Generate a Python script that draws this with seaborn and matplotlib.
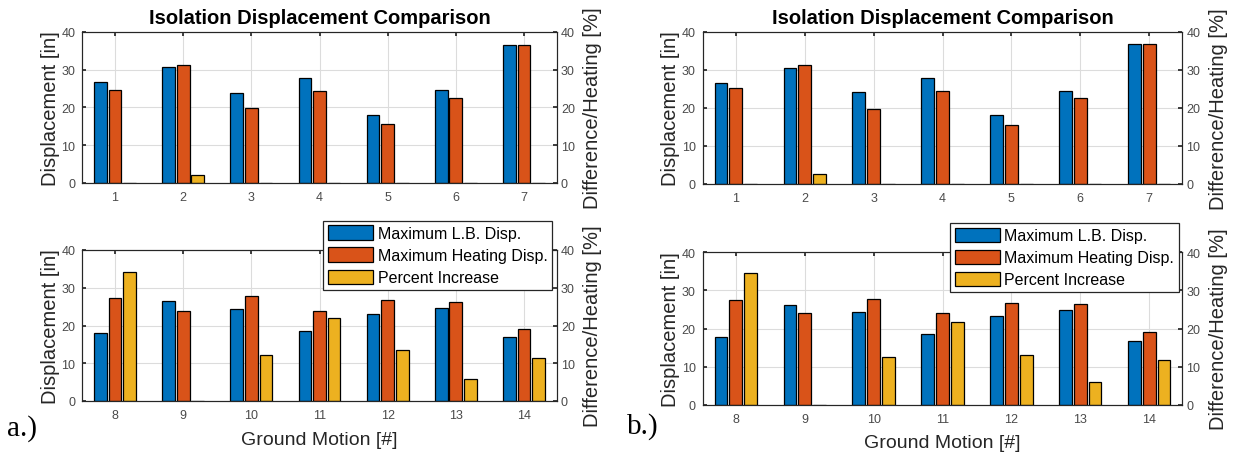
import matplotlib
matplotlib.use("Agg")
import matplotlib.pyplot as plt
import matplotlib.patches as mpatches
import seaborn as sns
import pandas as pd

# ---------------- data ----------------
motions_top = ["1", "2", "3", "4", "5", "6", "7"]
motions_bot = ["8", "9", "10", "11", "12", "13", "14"]
series_names = ["Maximum L.B. Disp.", "Maximum Heating Disp.", "Percent Increase"]

a_top_lb = [26.6, 30.6, 23.8, 27.8, 18.1, 24.5, 36.5]
a_top_heat = [24.5, 31.3, 19.7, 24.3, 15.6, 22.5, 36.5]
a_top_pct = [0, 2.1, 0, 0, 0, 0, 0]
a_bot_lb = [18.1, 26.4, 24.3, 18.6, 23.0, 24.6, 17.0]
a_bot_heat = [27.3, 23.8, 27.8, 23.9, 26.7, 26.2, 19.0]
a_bot_pct = [34.2, 0, 12.3, 22.0, 13.5, 5.8, 11.4]

b_top_lb = [26.4, 30.4, 24.1, 27.9, 18.1, 24.4, 36.7]
b_top_heat = [25.3, 31.3, 19.6, 24.4, 15.4, 22.5, 36.7]
b_top_pct = [0, 2.5, 0, 0, 0, 0, 0]
b_bot_lb = [17.9, 26.1, 24.4, 18.6, 23.2, 24.9, 16.6]
b_bot_heat = [27.4, 24.0, 27.8, 24.0, 26.6, 26.5, 19.0]
b_bot_pct = [34.6, 0, 12.5, 21.8, 13.1, 6.0, 11.8]

palette = {"Maximum L.B. Disp.": "#0072BD",
           "Maximum Heating Disp.": "#D95319",
           "Percent Increase": "#EDB120"}

# ---------------- style ----------------
sns.set_theme(style="white")
plt.rcParams["font.family"] = ["Liberation Sans", "DejaVu Sans"]

W, H = 1237, 456
fig = plt.figure(figsize=(W / 100, H / 100), dpi=100)

TXT = "#262626"
TICK = "#4a4a4a"


def px_axes(left, top, right, bottom):
    return fig.add_axes([left / W, 1 - bottom / H, (right - left) / W, (bottom - top) / H])


def draw_panel(ax, motions, lb, heat, pct, xlabel_y=None):
    # left axis (displacement) and right axis (percent) share the same 0-40 range,
    # so the three grouped series are drawn together with seaborn's dodge.
    df = pd.DataFrame({
        "motion": motions * 3,
        "series": [series_names[0]] * 7 + [series_names[1]] * 7 + [series_names[2]] * 7,
        "value": lb + heat + pct,
    })
    sns.barplot(data=df, x="motion", y="value", hue="series",
                hue_order=series_names, order=motions, palette=palette,
                width=0.64, gap=0.13, edgecolor="black", linewidth=0.9,
                errorbar=None, legend=False, saturation=1, ax=ax)
    ax2 = ax.twinx()
    for a in (ax, ax2):
        a.set_ylim(0, 40)
        a.set_yticks([0, 10, 20, 30, 40])
    ax.set_xlim(-0.48, 6.48)
    ax.set_axisbelow(True)
    ax.grid(True, color="#dcdcdc", linewidth=0.8)
    ax2.grid(False)
    ax.tick_params(axis="x", direction="in", length=3, top=True, bottom=True,
                   labelsize=9, labelcolor=TICK, color=TXT, pad=6)
    ax.tick_params(axis="y", direction="in", length=3, left=True, right=False,
                   labelsize=9, labelcolor=TICK, color=TXT, pad=5)
    ax2.tick_params(axis="y", direction="in", length=3, right=True, left=False,
                    labelsize=9, labelcolor=TICK, color=TXT, pad=3)
    ax2.tick_params(axis="x", top=False, bottom=False)
    for a in (ax, ax2):
        for s in a.spines.values():
            s.set_color(TXT)
            s.set_linewidth(0.8)
            s.set_visible(True)
    ax.set_ylabel("Displacement [in]", fontsize=14.5, color=TXT, va="center")
    ax.yaxis.set_label_coords(-0.068, 0.5)
    ax2.set_ylabel("Difference/Heating [%]", fontsize=14.5, color=TXT,
                   va="center", rotation=90)
    ax2.yaxis.set_label_coords(1.0765, 0.5)
    if xlabel_y is not None:
        ax.set_xlabel("Ground Motion [#]", fontsize=14, color=TXT, va="center")
        ax.xaxis.set_label_coords(0.5, xlabel_y)
    else:
        ax.set_xlabel("")
    return ax2


# panel a
ax_at = px_axes(82.3, 32.7, 556.7, 184.0)
draw_panel(ax_at, motions_top, a_top_lb, a_top_heat, a_top_pct)
ax_ab = px_axes(82.3, 251.0, 556.7, 402.0)
draw_panel(ax_ab, motions_bot, a_bot_lb, a_bot_heat, a_bot_pct, xlabel_y=-0.252)

# panel b
ax_bt = px_axes(702.7, 32.7, 1182.3, 184.7)
draw_panel(ax_bt, motions_top, b_top_lb, b_top_heat, b_top_pct)
ax_bb = px_axes(702.7, 253.3, 1182.3, 405.7)
draw_panel(ax_bb, motions_bot, b_bot_lb, b_bot_heat, b_bot_pct, xlabel_y=-0.245)

# titles
for ax in (ax_at, ax_bt):
    bb = ax.get_position()
    fig.text((bb.x0 + bb.x1) / 2, 1 - 18 / H, "Isolation Displacement Comparison",
             ha="center", va="center", fontsize=14.5, fontweight="bold", color="black")

# legends
handles = [mpatches.Patch(facecolor=palette[s], edgecolor="black", linewidth=0.9, label=s)
           for s in series_names]
for right_px, top_px in ((552.3, 221.7), (1179.0, 224.0)):
    leg = fig.legend(handles=handles, loc="upper right",
                     bbox_to_anchor=(right_px / W, 1 - top_px / H),
                     bbox_transform=fig.transFigure, borderaxespad=0,
                     fontsize=11.5, frameon=True, fancybox=False, framealpha=1,
                     edgecolor=TXT, handlelength=2.8, handleheight=1.0,
                     handletextpad=0.3, labelspacing=0.4, borderpad=0.3)
    leg.get_frame().set_linewidth(0.9)
    for t in leg.get_texts():
        t.set_color("black")

# panel letters
fig.text(22.5 / W, 1 - 429 / H, "a.)", ha="center", va="center",
         fontsize=21, family=["Liberation Serif", "DejaVu Serif"], color="black")
fig.text(643 / W, 1 - 427 / H, "b.)", ha="center", va="center",
         fontsize=21, family=["Liberation Serif", "DejaVu Serif"], color="black")

fig.savefig("out.png", dpi=100)
